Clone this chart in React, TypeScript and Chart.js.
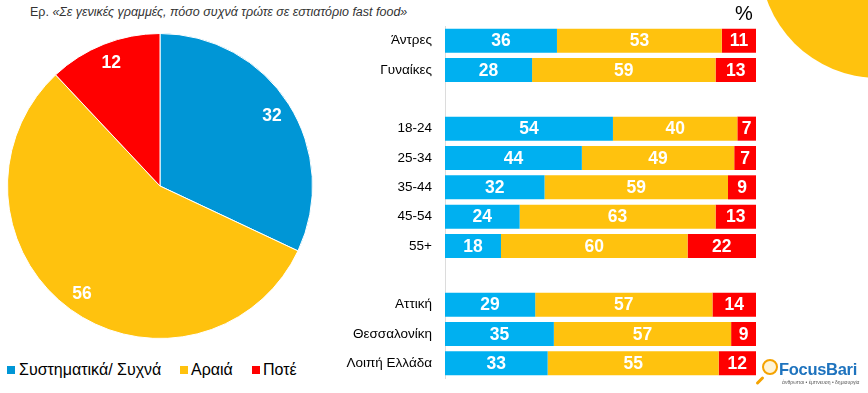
import React, { useEffect, useRef } from 'react';
import { Chart, registerables } from 'chart.js';

Chart.register(...registerables);

const pieLabels = ['Συστηματικά/ Συχνά', 'Αραιά', 'Ποτέ'];
const pieValues = [32, 56, 12];

const categories = ['Άντρες', 'Γυναίκες', '', '18-24', '25-34', '35-44', '45-54', '55+', '', 'Αττική', 'Θεσσαλονίκη', 'Λοιπή Ελλάδα'];
const often = [36, 28, null, 54, 44, 32, 24, 18, null, 29, 35, 33];
const rarely = [53, 59, null, 40, 49, 59, 63, 60, null, 57, 57, 55];
const never = [11, 13, null, 7, 7, 9, 13, 22, null, 14, 9, 12];

const PIE_BLUE = '#0096D6';
const BAR_BLUE = '#00B0F0';
const YELLOW = '#FFC20E';
const RED = '#FF0000';
const FONT = '"Liberation Sans", Arial, sans-serif';

const barLabelPlugin = {
  id: 'barLabels',
  afterDatasetsDraw(chart: any) {
    const ctx = chart.ctx;
    const area = chart.chartArea;
    ctx.save();
    ctx.font = `bold 17.5px ${FONT}`;
    ctx.fillStyle = '#fff';
    ctx.textAlign = 'center';
    ctx.textBaseline = 'middle';
    chart.data.datasets.forEach((ds: any, di: number) => {
      const meta = chart.getDatasetMeta(di);
      meta.data.forEach((el: any, i: number) => {
        const v = ds.data[i];
        if (v == null) return;
        const { x, y, base } = el.getProps(['x', 'y', 'base'], true);
        const right = Math.min(x, area.right);
        ctx.fillText(String(v), (base + right) / 2, y + 1);
      });
    });
    ctx.restore();
  },
};

const pieLabelPlugin = {
  id: 'pieLabels',
  afterDatasetsDraw(chart: any) {
    const ctx = chart.ctx;
    ctx.save();
    ctx.font = `bold 17.5px ${FONT}`;
    ctx.fillStyle = '#fff';
    ctx.textAlign = 'center';
    ctx.textBaseline = 'middle';
    const ds = chart.data.datasets[0];
    const meta = chart.getDatasetMeta(0);
    meta.data.forEach((el: any, i: number) => {
      const { x, y, startAngle, endAngle, outerRadius } = el.getProps(['x', 'y', 'startAngle', 'endAngle', 'outerRadius'], true);
      const mid = (startAngle + endAngle) / 2;
      const r = outerRadius * 0.87;
      ctx.fillText(String(ds.data[i]), x + Math.cos(mid) * r, y + Math.sin(mid) * r + 1);
    });
    ctx.restore();
  },
};

export default function App() {
  const pieRef = useRef<HTMLCanvasElement | null>(null);
  const barRef = useRef<HTMLCanvasElement | null>(null);

  useEffect(() => {
    const pie = new Chart(pieRef.current as HTMLCanvasElement, {
      type: 'pie',
      data: {
        labels: pieLabels,
        datasets: [
          {
            data: pieValues,
            backgroundColor: [PIE_BLUE, YELLOW, RED],
            borderColor: '#ffffff',
            borderWidth: 1,
          },
        ],
      },
      options: {
        responsive: false,
        animation: false,
        layout: { padding: 0 },
        plugins: { legend: { display: false }, tooltip: { enabled: false } },
      },
      plugins: [pieLabelPlugin],
    } as any);

    const bar = new Chart(barRef.current as HTMLCanvasElement, {
      type: 'bar',
      data: {
        labels: categories,
        datasets: [
          { label: pieLabels[0], data: often, backgroundColor: BAR_BLUE, borderWidth: 0, clip: 0, barPercentage: 0.82, categoryPercentage: 1 },
          { label: pieLabels[1], data: rarely, backgroundColor: YELLOW, borderWidth: 0, clip: 0, barPercentage: 0.82, categoryPercentage: 1 },
          { label: pieLabels[2], data: never, backgroundColor: RED, borderWidth: 0, clip: 0, barPercentage: 0.82, categoryPercentage: 1 },
        ],
      },
      options: {
        indexAxis: 'y',
        responsive: false,
        animation: false,
        layout: { padding: { top: 26, bottom: 15, left: 0, right: 14 } },
        scales: {
          x: { stacked: true, min: 0, max: 100, display: false },
          y: {
            stacked: true,
            grid: { color: 'transparent', drawTicks: false },
            border: { display: true, color: '#dcdcdc', width: 1 },
            ticks: { color: '#000', font: { size: 13.5, family: FONT }, padding: 13, autoSkip: false },
            afterFit(scale: any) {
              scale.width = 115;
              scale.paddingTop = 0;
              scale.paddingBottom = 0;
            },
          },
        },
        plugins: { legend: { display: false }, tooltip: { enabled: false } },
      },
      plugins: [barLabelPlugin],
    } as any);

    return () => {
      pie.destroy();
      bar.destroy();
    };
  }, []);

  const legendItem = (color: string, label: string, sqLeft: number, textLeft: number) => (
    <React.Fragment key={label}>
      <div style={{ position: 'absolute', left: sqLeft, top: 366, width: 8, height: 8, background: color }} />
      <div style={{ position: 'absolute', left: textLeft, top: 360, fontSize: 16, lineHeight: '20px', color: '#000', whiteSpace: 'nowrap' }}>{label}</div>
    </React.Fragment>
  );

  return (
    <div style={{ position: 'absolute', left: 0, top: 0, width: 868, height: 393, overflow: 'hidden', background: '#fff', fontFamily: FONT }}>
      <div style={{ position: 'absolute', left: 760, top: -158, width: 236, height: 236, borderRadius: '50%', background: YELLOW }} />
      <div style={{ position: 'absolute', left: 30, top: 4, fontSize: 12.5, lineHeight: '16px', color: '#333', whiteSpace: 'nowrap' }}>
        Ερ. <i>«Σε γενικές γραμμές, πόσο συχνά τρώτε σε εστιατόριο fast food»</i>
      </div>
      <canvas ref={pieRef} width={306} height={306} style={{ position: 'absolute', left: 7, top: 33 }} />
      <canvas ref={barRef} width={440} height={393} style={{ position: 'absolute', left: 330, top: 0 }} />
      <div style={{ position: 'absolute', left: 735, top: 2, fontSize: 20, lineHeight: '22px', color: '#000' }}>%</div>
      {legendItem(PIE_BLUE, pieLabels[0], 7, 19)}
      {legendItem(YELLOW, pieLabels[1], 180, 191)}
      {legendItem(RED, pieLabels[2], 252, 263)}
      <div style={{ position: 'absolute', left: 762, top: 359, width: 12, height: 12, borderRadius: '50%', border: '2.5px solid #F5A300', background: '#FFF4D6' }} />
      <div style={{ position: 'absolute', left: 755, top: 379, width: 10, height: 3, background: '#F5A300', transform: 'rotate(-45deg)', transformOrigin: 'center', borderRadius: 2 }} />
      <div style={{ position: 'absolute', left: 779, top: 359, fontSize: 16.5, lineHeight: '20px', fontWeight: 'bold', color: '#1E73BE', letterSpacing: -0.3, whiteSpace: 'nowrap' }}>FocusBari</div>
      <div style={{ position: 'absolute', left: 782, top: 379, fontSize: 5, lineHeight: '6px', color: '#555', whiteSpace: 'nowrap' }}>άνθρωποι • έμπνευση • δημιουργία</div>
    </div>
  );
}
